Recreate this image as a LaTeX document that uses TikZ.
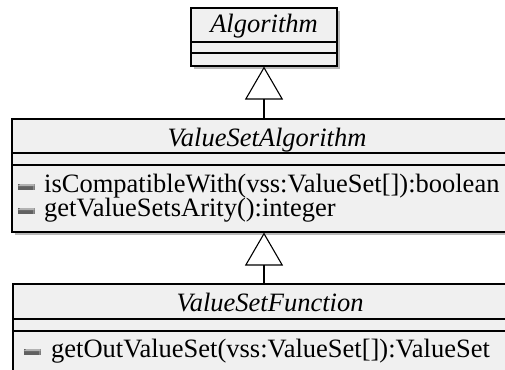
\documentclass[tikz,border=0pt]{standalone}
\usepackage{fontspec}
\setmainfont{Liberation Serif}
\usetikzlibrary{arrows.meta,shadows}
\tikzset{
  classbox/.style={draw=black, fill=gray!12, line width=1.1pt, inner sep=0pt,
    drop shadow={shadow xshift=3pt, shadow yshift=-3pt, fill=gray!55, opacity=1}},
  compline/.style={draw=black, line width=1.1pt},
  classname/.style={font=\fontsize{26.5}{26.5}\selectfont\itshape, anchor=base, inner sep=0pt},
  opname/.style={font=\fontsize{26.5}{26.5}\selectfont, anchor=base west, inner sep=0pt,
    text height=17pt, text depth=4pt},
  opicon/.style={rectangle, minimum width=17pt, minimum height=6pt, inner sep=0pt,
    fill=black!62, path picture={
      \fill[black!30] ([xshift=3pt]path picture bounding box.north west)
        -- (path picture bounding box.north east)
        -- ([yshift=-2pt]path picture bounding box.north east)
        -- ([yshift=-2pt]path picture bounding box.north west) -- cycle;
      \fill[black!45] ([yshift=-2pt]path picture bounding box.north east)
        -- (path picture bounding box.south east)
        -- ([xshift=-2pt]path picture bounding box.south east)
        -- ([xshift=-2pt,yshift=-2pt]path picture bounding box.north east) -- cycle;}},
  inherit/.style={draw=black, line width=1.1pt,
    -{Triangle[open, width=38pt, length=33pt, line width=1.1pt]}},
}
\begin{document}
\begin{tikzpicture}[x=1pt, y=-1pt]
\clip (0,0) rectangle (505,369);
% classes
\node[classbox, minimum width=146pt, minimum height=58pt] (alg) at (264,37) {};
\node[classbox, minimum width=510pt, minimum height=113pt] (vsa) at (267,175.5) {};
\node[classbox, minimum width=508pt, minimum height=110pt] (vsf) at (267,339) {};
% compartments
\draw[compline] (alg.west |- 0,42) -- (alg.east |- 0,42);
\draw[compline] (alg.west |- 0,53) -- (alg.east |- 0,53);
\draw[compline] (vsa.west |- 0,153) -- (vsa.east |- 0,153);
\draw[compline] (vsa.west |- 0,165) -- (vsa.east |- 0,165);
\draw[compline] (vsf.west |- 0,319) -- (vsf.east |- 0,319);
\draw[compline] (vsf.west |- 0,331) -- (vsf.east |- 0,331);
% names
\node[classname] (algname) at (264,33) {Algorithm};
\node[classname] (vsaname) at (267,146) {ValueSetAlgorithm};
\node[classname] (vsfname) at (270,311) {ValueSetFunction};
% operations
\node[opicon] (icon1) at (26,187) {};
\node[opname] (op1) at (44,192.5) {isCompatibleWith(vss:ValueSet[]):boolean};
\node[opicon] (icon2) at (26,211) {};
\node[opname] (op2) at (44,216.5) {getValueSetsArity():integer};
\node[opicon] (icon3) at (32,352) {};
\node[opname] (op3) at (51,357) {getOutValueSet(vss:ValueSet[]):ValueSet};
% generalizations
\draw[inherit] (alg.south |- vsa.north) -- (alg.south);
\draw[inherit] (alg.south |- vsf.north) -- (alg.south |- vsa.south);
\end{tikzpicture}
\end{document}
